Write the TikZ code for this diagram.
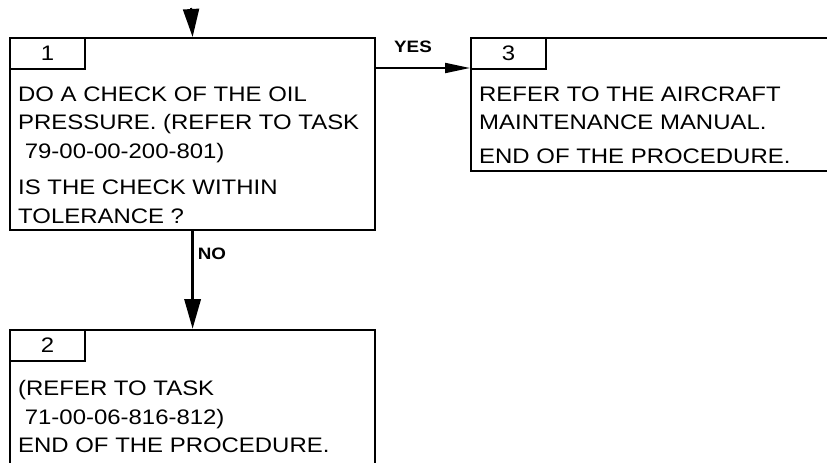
\documentclass[tikz,border=0pt]{standalone}
\usepackage{fontspec}
\setmainfont{Liberation Sans}[FakeStretch=1.14]
\usetikzlibrary{arrows.meta,positioning}

\begin{document}
\begin{tikzpicture}[
    x=1pt,
    y=-1pt,
    box/.style={draw, line width=2.2pt, inner sep=0pt, anchor=north west},
    tab/.style={draw, line width=2pt, inner sep=0pt, anchor=north west,
                minimum width=75pt, minimum height=31pt, font=\fontsize{21}{24}\selectfont},
    txt/.style={anchor=north west, inner sep=0pt, align=left, font=\fontsize{21}{28.5}\selectfont},
    lbl/.style={inner sep=0pt, font=\bfseries\fontsize{16.5}{18}\selectfont},
    flow/.style={draw, line width=2pt}
]
\clip (0,0) rectangle (827,463);

% step 1
\node[box, minimum width=365pt, minimum height=192pt] (b1) at (9,37) {};
\node[tab] (t1) at (b1.north west) {1};
\node[txt] (x1) at (18,86.5) {DO A CHECK OF THE OIL\\PRESSURE. (REFER TO TASK\\\ 79-00-00-200-801)\\[8pt]IS THE CHECK WITHIN\\TOLERANCE ?};

% step 3
\node[box, minimum width=400pt, minimum height=133pt] (b3) at (470,37) {};
\node[tab] (t3) at (b3.north west) {3};
\node[txt] (x3) at (479,86.5) {REFER TO THE AIRCRAFT\\MAINTENANCE MANUAL.\\[5pt]END OF THE PROCEDURE.};

% step 2
\node[box, minimum width=365pt, minimum height=200pt] (b2) at (9,329) {};
\node[tab] (t2) at (b2.north west) {2};
\node[txt] (x2) at (18,380.5) {(REFER TO TASK\\\ 71-00-06-816-812)\\END OF THE PROCEDURE.};

% connectors
\coordinate (in) at (191,8);
\draw[flow, -{Triangle[length=28pt,width=16pt]}] (in) -- (b1.north);
\draw[flow, -{Triangle[length=25pt,width=10pt]}] (b1.east |- t3.south) ++(0,-2) -- ([yshift=2pt]t3.south west);
\draw[flow, line width=3.5pt, -{Triangle[length=30pt,width=16pt]}] (b1.south) -- (b2.north);

\node[lbl] (yes) at (413,47) {YES};
\node[lbl] (no) at (212,254) {NO};
\end{tikzpicture}
\end{document}
